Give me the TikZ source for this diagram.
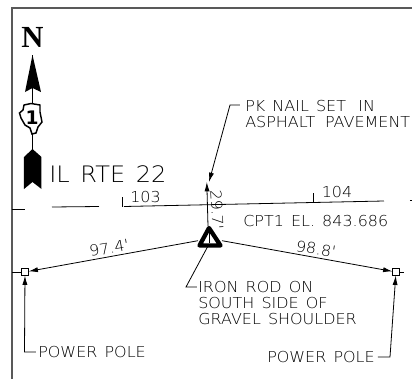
\documentclass[tikz,border=0pt]{standalone}
\usepackage{fontspec}
\setmainfont{DejaVu Sans}
\newfontfamily\platefont[FakeStretch=1.06,WordSpace=1.4]{DejaVu Sans ExtraLight}
\newfontfamily\northfont{Liberation Serif}
\usetikzlibrary{arrows.meta}
\tikzset{
  leader/.style={-{Latex[length=7pt,width=3.8pt]},line width=.6pt},
  plate/.style={inner sep=0pt,font=\platefont\fontsize{11.3}{12}\selectfont,align=left},
  pole/.style={draw,minimum size=5pt,inner sep=0pt,line width=.4pt}
}
\begin{document}
\begin{tikzpicture}[x=.75pt,y=-.75pt]
  \useasboundingbox (0,0) rectangle (412,379);
  % border
  \draw[gray!70!black,line width=.8pt] (12,379) -- (12,8) -- (412,8);
  % north arrow
  \node[font=\northfont\bfseries\fontsize{23}{23}\selectfont,inner sep=0pt] (north) at (32.5,37) {N};
  \coordinate (tip) at (32.5,55);
  \coordinate (tail) at (32.5,150);
  \draw[line width=.8pt] (tip) -- (tail);
  \fill (tip) -- (41,92) -- (32.5,88) -- (25,92) -- cycle;
  \fill (32.5,149) -- (41.5,157) -- (41.5,189) -- (32.5,182) -- (24,189) -- (24,157) -- cycle;
  \draw[fill=white,line width=1.1pt] (24,105) -- (31,103.5) -- (40,105) -- (40,112) -- (42,122) -- (38,127) -- (36,133) -- (32,134) -- (30,128) -- (25,125) -- (21,118) -- (19.5,113) -- (23,110) -- cycle;
  \node[inner sep=0pt,font=\bfseries\fontsize{14}{14}\selectfont] (shield) at (32,117.5) {1};
  \node[plate,font=\platefont\fontsize{17}{17}\selectfont,anchor=west] (route) at (49,174) {IL RTE 22};
  % road line
  \draw[line width=.6pt] (12,209) -- (25,209);
  \draw[line width=.6pt] (52,207) -- (99,206.5);
  \draw[line width=.6pt] (124,206.5) -- (384,201);
  \draw[line width=.6pt] (410,200.7) -- (412,200.7);
  \draw[line width=.5pt] (122.7,197) -- (122.7,207);
  \draw[line width=.5pt] (313.7,193) -- (313.7,203);
  \node[plate] (stA) at (145.5,197) {103};
  \node[plate] (stB) at (337,192.5) {104};
  % control point
  \coordinate (cpN) at (208,226);
  \coordinate (cpW) at (198,240.7);
  \coordinate (cpE) at (222,240.7);
  \coordinate (cpS) at (208,246);
  \draw[line width=3.2pt,line join=round] (209,228) -- (199.5,245.5) -- (220.5,245.5) -- cycle;
  \draw[line width=.7pt] (209,232) -- (209,243);
  \node[plate,anchor=west] (elev) at (243,221) {CPT1 EL. 843.686};
  % ties
  \node[pole] (poleW) at (25,272) {};
  \node[pole] (poleE) at (396,272) {};
  \coordinate (nail) at (206.8,182);
  \draw[line width=.6pt] (12,272) -- (poleW);
  \draw[line width=.6pt] (poleE) -- (404,272);
  \draw[leader] (cpN) -- (nail);
  \draw[leader] (cpW) -- (poleW);
  \draw[leader] (cpE) -- (poleE);
  \node[plate,rotate=-87] (tieN) at (217,210) {29.7'};
  \node[plate,rotate=10] (tieW) at (109,248) {97.4'};
  \node[plate,rotate=-9] (tieE) at (316,249) {98.8'};
  % notes
  \node[plate,anchor=north west] (noteNail) at (245,100) {PK NAIL SET\hspace{4pt} IN\\ASPHALT\hspace{2pt} PAVEMENT};
  \coordinate (startNail) at (240,105);
  \coordinate (bendNail) at (230,105);
  \draw[leader] (startNail) -- (bendNail) -- (209,182);
  \node[plate,anchor=north west] (noteRod) at (198,281) {IRON ROD ON\\SOUTH SIDE OF\\GRAVEL SHOULDER};
  \coordinate (startRod) at (197,287);
  \coordinate (bendRod) at (186,287);
  \draw[line width=.6pt] (startRod) -- (bendRod) -- (cpS);
  \node[plate,anchor=west] (notePoleW) at (38,352) {POWER POLE};
  \coordinate (startPoleW) at (36,352);
  \coordinate (bendPoleW) at (24.5,352);
  \draw[leader] (startPoleW) -- (bendPoleW) -- (poleW);
  \node[plate,anchor=east] (notePoleE) at (375,357) {POWER POLE};
  \coordinate (startPoleE) at (378,357);
  \coordinate (bendPoleE) at (390,357);
  \draw[leader] (startPoleE) -- (bendPoleE) -- (poleE);
\end{tikzpicture}
\end{document}
